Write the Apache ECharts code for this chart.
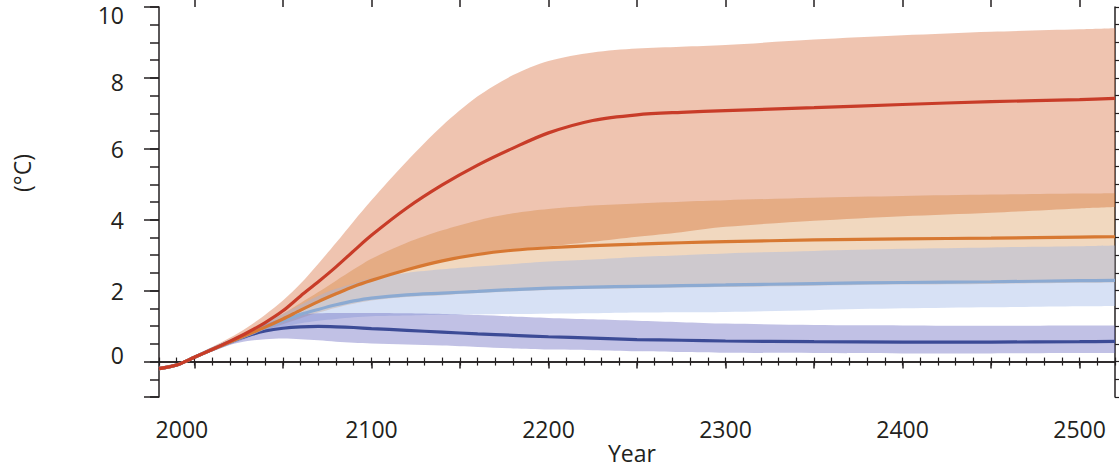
<!DOCTYPE html>
<html>
<head>
<meta charset="utf-8">
<title>Temperature change to 2500</title>
<script src="https://cdn.jsdelivr.net/npm/echarts@6/dist/echarts.min.js"></script>
<style>
  html, body { margin: 0; padding: 0; background: #fff; }
  #chart { width: 1119px; height: 469px; }
</style>
</head>
<body>
<div id="chart"></div>
<script>
// years of the sampled points
const years = [1980, 1990, 2000, 2010, 2020, 2030, 2040, 2050, 2060, 2070, 2080, 2090, 2100,
  2120, 2140, 2160, 2180, 2200, 2225, 2250, 2275, 2300, 2350, 2400, 2450, 2500, 2520];

// RCP8.5 (red)
const rcp85 = [-0.2, -0.1, 0.12, 0.34, 0.57, 0.82, 1.1, 1.43, 1.85, 2.25, 2.67, 3.12, 3.56,
  4.33, 4.98, 5.54, 6.02, 6.45, 6.8, 6.96, 7.03, 7.08, 7.16, 7.25, 7.33, 7.39, 7.42];
const rcp85High = [-0.15, -0.05, 0.17, 0.41, 0.67, 0.97, 1.32, 1.72, 2.2, 2.76, 3.35, 3.96, 4.55,
  5.65, 6.65, 7.48, 8.08, 8.48, 8.72, 8.83, 8.88, 8.93, 9.08, 9.2, 9.3, 9.37, 9.4];
const rcp85Low = [-0.25, -0.15, 0.07, 0.29, 0.5, 0.71, 0.93, 1.16, 1.41, 1.66, 1.88, 2.1, 2.28,
  2.58, 2.84, 3.03, 3.16, 3.25, 3.38, 3.52, 3.65, 3.8, 3.97, 4.1, 4.2, 4.32, 4.36];

// RCP6.0 (orange)
const rcp60 = [-0.2, -0.1, 0.12, 0.34, 0.55, 0.76, 0.97, 1.2, 1.45, 1.69, 1.91, 2.12, 2.29,
  2.59, 2.84, 3.02, 3.14, 3.21, 3.27, 3.31, 3.35, 3.38, 3.43, 3.46, 3.48, 3.51, 3.52];
const rcp60High = [-0.18, -0.08, 0.15, 0.38, 0.6, 0.84, 1.08, 1.35, 1.65, 1.96, 2.28, 2.6, 2.9,
  3.35, 3.7, 3.98, 4.18, 4.3, 4.4, 4.46, 4.51, 4.55, 4.62, 4.67, 4.71, 4.74, 4.75];
const rcp60Low = [-0.25, -0.15, 0.07, 0.28, 0.48, 0.68, 0.88, 1.05, 1.22, 1.38, 1.52, 1.63, 1.72,
  1.82, 1.87, 1.93, 1.98, 2.02, 2.05, 2.07, 2.09, 2.1, 2.14, 2.17, 2.19, 2.22, 2.23];

// RCP4.5 (light blue)
const rcp45 = [-0.2, -0.1, 0.12, 0.34, 0.55, 0.75, 0.96, 1.15, 1.33, 1.47, 1.6, 1.71, 1.79,
  1.88, 1.93, 1.98, 2.03, 2.07, 2.1, 2.12, 2.14, 2.16, 2.2, 2.23, 2.25, 2.28, 2.29];
const rcp45High = [-0.15, -0.05, 0.17, 0.4, 0.62, 0.85, 1.1, 1.35, 1.6, 1.85, 2.05, 2.2, 2.35,
  2.5, 2.6, 2.68, 2.75, 2.82, 2.88, 2.95, 3.0, 3.05, 3.12, 3.18, 3.22, 3.25, 3.27];
const rcp45Low = [-0.25, -0.15, 0.07, 0.28, 0.48, 0.66, 0.85, 0.98, 1.08, 1.15, 1.2, 1.25, 1.28,
  1.3, 1.32, 1.33, 1.34, 1.35, 1.36, 1.38, 1.39, 1.4, 1.45, 1.5, 1.53, 1.56, 1.57];

// RCP2.6 (dark blue)
const rcp26 = [-0.2, -0.1, 0.12, 0.34, 0.55, 0.73, 0.86, 0.94, 0.98, 0.99, 0.98, 0.96, 0.93,
  0.88, 0.83, 0.78, 0.74, 0.7, 0.66, 0.62, 0.6, 0.58, 0.56, 0.55, 0.55, 0.56, 0.57];
const rcp26High = [-0.15, -0.05, 0.17, 0.4, 0.62, 0.85, 1.05, 1.22, 1.32, 1.36, 1.37, 1.37, 1.37,
  1.36, 1.34, 1.31, 1.27, 1.23, 1.19, 1.15, 1.11, 1.07, 1.03, 1.02, 1.01, 1.02, 1.02];
const rcp26Low = [-0.25, -0.15, 0.07, 0.28, 0.47, 0.58, 0.63, 0.65, 0.63, 0.6, 0.56, 0.53, 0.51,
  0.48, 0.45, 0.41, 0.37, 0.34, 0.32, 0.29, 0.27, 0.25, 0.24, 0.23, 0.23, 0.24, 0.24];

// axis ticks / labels
const xMajorTicks = [2000, 2050, 2100, 2150, 2200, 2250, 2300, 2350, 2400, 2450, 2500];
const xLabels = [2000, 2100, 2200, 2300, 2400, 2500];
const yMajorTicks = [-1, 0, 2, 4, 6, 8, 10];
const yLabels = [0, 2, 4, 6, 8, 10];

const font = '"Open Sans", "Noto Sans", sans-serif';
const ink = '#231f20';
const smooth = 0.3;

// band = invisible lower line + stacked (high - low) filled on top.
// value comes first in each item so the stack runs on the y dimension
function band(id, low, high, color) {
  return [{
    name: id + '-low',
    type: 'line',
    stack: id,
    stackStrategy: 'all',
    encode: { x: 1, y: 0 },
    data: years.map((y, i) => [low[i], y]),
    symbol: 'none',
    smooth: smooth,
    silent: true,
    lineStyle: { opacity: 0 },
    z: 1
  }, {
    name: id + '-range',
    type: 'line',
    stack: id,
    stackStrategy: 'all',
    encode: { x: 1, y: 0 },
    data: years.map((y, i) => [high[i] - low[i], y]),
    symbol: 'none',
    smooth: smooth,
    silent: true,
    lineStyle: { opacity: 0 },
    areaStyle: { color: color, opacity: 1 },
    z: 1
  }];
}

function line(name, arr, color) {
  return {
    name: name,
    type: 'line',
    data: years.map((y, i) => [y, arr[i]]),
    symbol: 'none',
    smooth: smooth,
    lineStyle: { color: color, width: 3.2 },
    z: 3
  };
}

let myChart = echarts.init(document.getElementById('chart'), null, { renderer: 'svg' });

const frame = { show: true, lineStyle: { color: ink, width: 1.5 } };
// small vertical nudges of some y labels, as in the scanned figure
const yNudge = { 10: 'a', 8: 'b', 0: 'c' };

let option = {
  animation: false,
  backgroundColor: '#fff',
  grid: { left: 159, right: 4, top: 7, bottom: 72, outerBoundsMode: 'none' },
  xAxis: [{
    // bottom, minor ticks
    type: 'value', min: 1980, max: 2520, interval: 10, position: 'bottom',
    axisLine: frame,
    axisTick: { length: 4, lineStyle: { color: ink, width: 1.2 } },
    axisLabel: { show: false },
    splitLine: { show: false }
  }, {
    // bottom, major ticks + labels
    type: 'value', min: 1980, max: 2520, position: 'bottom',
    axisLine: { show: false },
    axisTick: { customValues: xMajorTicks, length: 7, lineStyle: { color: ink, width: 1.5 } },
    axisLabel: {
      customValues: xLabels,
      margin: 20,
      color: ink,
      fontSize: 23,
      fontFamily: font,
      formatter: v => v === 2000 ? '{s|2000}' : String(v),
      rich: { s: { padding: [0, 25, 0, 0], fontSize: 23, fontFamily: font, color: ink } }
    },
    splitLine: { show: false }
  }, {
    // top frame, minor ticks
    type: 'value', min: 1980, max: 2520, interval: 10, position: 'top',
    axisLine: frame,
    axisTick: { length: 4, lineStyle: { color: ink, width: 1.2 } },
    axisLabel: { show: false },
    splitLine: { show: false }
  }, {
    // top frame, major ticks
    type: 'value', min: 1980, max: 2520, position: 'top',
    axisLine: { show: false },
    axisTick: { customValues: xMajorTicks, length: 7, lineStyle: { color: ink, width: 1.5 } },
    axisLabel: { show: false },
    splitLine: { show: false }
  }],
  yAxis: [{
    // left, minor ticks
    type: 'value', min: -1, max: 10, interval: 0.5, position: 'left',
    axisLine: frame,
    axisTick: { length: 9, lineStyle: { color: ink, width: 1.5 } },
    axisLabel: { show: false },
    splitLine: { show: false }
  }, {
    // left, major ticks + labels
    type: 'value', min: -1, max: 10, position: 'left',
    axisLine: { show: false },
    axisTick: { customValues: yMajorTicks, length: 15, lineStyle: { color: ink, width: 1.5 } },
    axisLabel: {
      customValues: yLabels,
      margin: 35,
      color: ink,
      fontSize: 23,
      fontFamily: font,
      formatter: v => yNudge[v] ? '{' + yNudge[v] + '|' + v + '}' : String(v),
      rich: {
        a: { padding: [16, 0, 0, 0], fontSize: 23, fontFamily: font, color: ink },
        b: { padding: [9, 0, 0, 0], fontSize: 23, fontFamily: font, color: ink },
        c: { padding: [0, 0, 14, 0], fontSize: 23, fontFamily: font, color: ink }
      }
    },
    splitLine: { show: false }
  }, {
    // right frame
    type: 'value', min: -1, max: 10, interval: 0.5, position: 'right',
    axisLine: frame,
    axisTick: { length: 6, lineStyle: { color: ink, width: 1.2 } },
    axisLabel: { show: false },
    splitLine: { show: false }
  }],
  // axis titles
  graphic: [{
    type: 'text',
    x: 22,
    y: 173,
    rotation: Math.PI / 2,
    style: {
      text: '(°C)',
      fill: ink,
      fontSize: 23,
      fontFamily: font,
      align: 'center',
      verticalAlign: 'middle'
    }
  }, {
    type: 'text',
    x: 632,
    y: 453,
    style: {
      text: 'Year',
      fill: ink,
      fontSize: 23,
      lineHeight: 23,
      fontFamily: font,
      align: 'center',
      verticalAlign: 'middle'
    }
  }],
  series: [
    ...band('rcp85', rcp85Low, rcp85High, 'rgba(220,125,80,0.45)'),
    ...band('rcp60', rcp60Low, rcp60High, 'rgba(200,100,0,0.25)'),
    ...band('rcp45', rcp45Low, rcp45High, 'rgba(155,180,230,0.4)'),
    ...band('rcp26', rcp26Low, rcp26High, 'rgba(100,100,190,0.4)'),
    line('RCP2.6', rcp26, '#3c4b96'),
    line('RCP4.5', rcp45, '#8caad2'),
    line('RCP6.0', rcp60, '#d77832'),
    line('RCP8.5', rcp85, '#c83c28')
  ]
};

myChart.setOption(option);
window.addEventListener('resize', function () {
  myChart.resize();
});
</script>
</body>
</html>
